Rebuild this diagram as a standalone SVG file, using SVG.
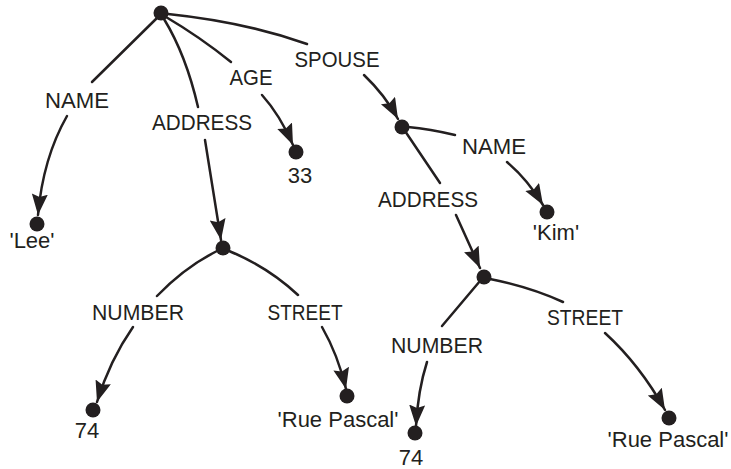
<svg xmlns="http://www.w3.org/2000/svg" width="731" height="469" viewBox="0 0 731 469">
<style>
.e{fill:none;stroke:#231f20;stroke-width:2.5;stroke-linecap:round}
.a{marker-end:url(#arr)}
.n{fill:#231f20}
text{font-family:"Liberation Sans",Arial,sans-serif;font-size:22px;fill:#231f20;text-anchor:middle}
</style>
<defs>
<marker id="arr" markerUnits="userSpaceOnUse" markerWidth="24" markerHeight="18" refX="21" refY="8" orient="auto">
<path d="M0,0 L21,8 L0,16 L3,8 Z" fill="#231f20"/>
</marker>
</defs>
<rect width="731" height="469" fill="#fff"/>
<g id="connectors">
<path class="e" d="M158,17 L92,82"/>
<path class="e a" d="M67,116 Q43,158 38,215"/>
<path class="e" d="M164,19 Q186,55 198,107"/>
<path class="e a" d="M205,140 Q212,185 221,240"/>
<path class="e" d="M166,17 Q200,37 231,62"/>
<path class="e a" d="M262,95 Q280,115 293,145"/>
<path class="e" d="M168,14 Q245,22 307,44"/>
<path class="e a" d="M364,75 Q385,95 398,119"/>
<path class="e" d="M408,127 Q430,129 455,135"/>
<path class="e a" d="M507,162 Q528,180 543,205"/>
<path class="e" d="M405,131 L440,183"/>
<path class="e a" d="M456,215 L480,268"/>
<path class="e" d="M217,251 Q185,267 157,296"/>
<path class="e a" d="M133,327 Q110,360 97,402"/>
<path class="e" d="M229,251 Q268,267 298,295"/>
<path class="e a" d="M322,327 Q338,355 346,389"/>
<path class="e" d="M480,281 L442,326"/>
<path class="e a" d="M427,362 Q418,390 416,426"/>
<path class="e" d="M490,279 Q530,287 563,302"/>
<path class="e a" d="M605,333 Q640,365 665,410"/>
</g>
<g id="labels">
<text x="77" y="108" textLength="64" lengthAdjust="spacingAndGlyphs">NAME</text>
<text x="202" y="130" textLength="100" lengthAdjust="spacingAndGlyphs">ADDRESS</text>
<text x="251" y="85" textLength="43" lengthAdjust="spacingAndGlyphs">AGE</text>
<text x="337" y="67" textLength="85" lengthAdjust="spacingAndGlyphs">SPOUSE</text>
<text x="494" y="154" textLength="64" lengthAdjust="spacingAndGlyphs">NAME</text>
<text x="428" y="207" textLength="100" lengthAdjust="spacingAndGlyphs">ADDRESS</text>
<text x="138" y="320" textLength="92" lengthAdjust="spacingAndGlyphs">NUMBER</text>
<text x="305" y="320" textLength="75" lengthAdjust="spacingAndGlyphs">STREET</text>
<text x="437" y="353" textLength="92" lengthAdjust="spacingAndGlyphs">NUMBER</text>
<text x="585" y="325" textLength="76" lengthAdjust="spacingAndGlyphs">STREET</text>
</g>
<g id="root"><circle class="n" cx="161" cy="13" r="7.5"/></g>
<g id="lee"><circle class="n" cx="37" cy="224" r="7.5"/><text x="32" y="248">'Lee'</text></g>
<g id="addr1"><circle class="n" cx="223" cy="248" r="7.5"/></g>
<g id="age"><circle class="n" cx="296" cy="152" r="7.5"/><text x="300" y="183">33</text></g>
<g id="spouse"><circle class="n" cx="402" cy="127" r="7.5"/></g>
<g id="kim"><circle class="n" cx="547" cy="212" r="7.5"/><text x="556" y="240">'Kim'</text></g>
<g id="addr2"><circle class="n" cx="484" cy="277" r="7.5"/></g>
<g id="num1"><circle class="n" cx="93" cy="410" r="7.5"/><text x="87" y="438">74</text></g>
<g id="street1"><circle class="n" cx="347" cy="396" r="7.5"/><text x="338" y="427">'Rue Pascal'</text></g>
<g id="num2"><circle class="n" cx="415" cy="433" r="7.5"/><text x="411" y="465">74</text></g>
<g id="street2"><circle class="n" cx="669" cy="418" r="7.5"/><text x="668" y="447">'Rue Pascal'</text></g>
</svg>
